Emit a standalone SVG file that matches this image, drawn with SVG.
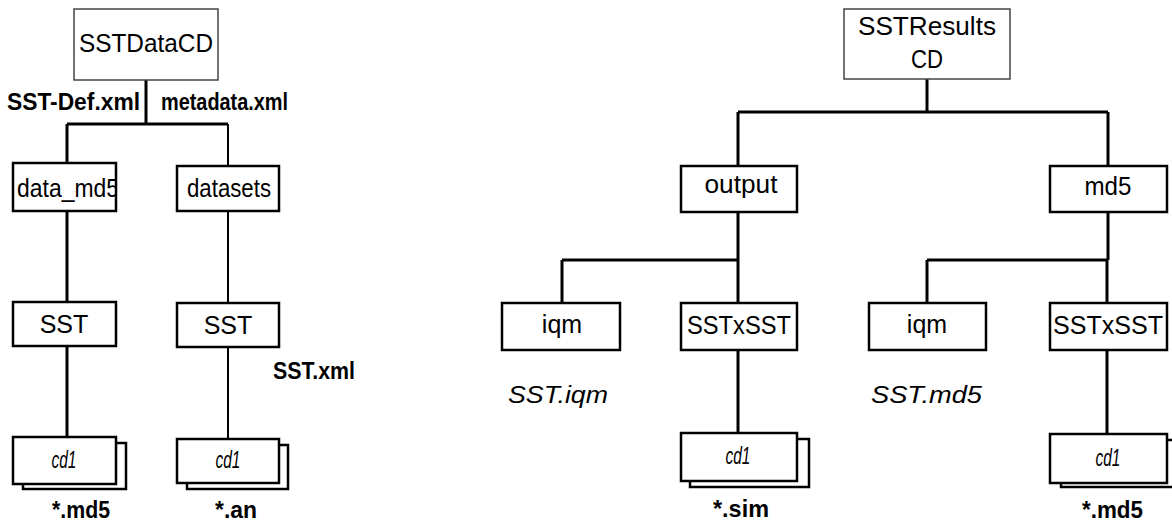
<svg xmlns="http://www.w3.org/2000/svg" width="1172" height="523" viewBox="0 0 1172 523">
<style>
.bx{fill:#fff;stroke:#000;stroke-width:2.5}
.root{fill:#fff;stroke:#444;stroke-width:1.5}
.t{font-family:"Liberation Sans",Arial,sans-serif;font-size:25px;fill:#000;text-anchor:middle}
.cd{font-family:"Liberation Sans",Arial,sans-serif;font-size:23px;font-style:italic;fill:#000;text-anchor:middle}
.lb{font-family:"Liberation Sans",Arial,sans-serif;font-size:24px;font-weight:bold;fill:#000}
.it{font-family:"Liberation Sans",Arial,sans-serif;font-size:23px;font-style:italic;fill:#000}
.ln{fill:none;stroke:#000;stroke-width:3}
.ln2{fill:none;stroke:#000;stroke-width:2}
</style>
<defs>
<clipPath id="clipDm"><rect x="14" y="164" width="102" height="46"/></clipPath>
</defs>
<rect width="1172" height="523" fill="#fff"/>
<g id="connectors">
<path class="ln" d="M146 80V124M67 124H228M67 124V164M67 211V302M67 346V437"/>
<path class="ln2" d="M228 124V166M228 211V303M228 347V439"/>
<path class="ln" d="M927 79V112M738 112H1108M738 112V166M1108 112V166"/>
<path class="ln" d="M738 212V303M562 260H738M562 260V303M738 350V433"/>
<path class="ln" d="M1108 212V260M927 260H1108M927 260V303M1107 260V303M1107 350V434"/>
</g>
<g id="SSTDataCD"><rect class="root" x="74" y="9" width="144" height="71"/><text class="t" x="146" y="52" textLength="134" lengthAdjust="spacingAndGlyphs">SSTDataCD</text></g>
<g id="lbl-def"><text class="lb" x="7" y="110" textLength="133" lengthAdjust="spacingAndGlyphs">SST-Def.xml</text></g>
<g id="lbl-meta"><text class="lb" x="161" y="110" textLength="127" lengthAdjust="spacingAndGlyphs">metadata.xml</text></g>
<g id="data_md5"><rect class="bx" x="13" y="163" width="103" height="48"/><text class="t" x="17" y="197" style="text-anchor:start" textLength="102" lengthAdjust="spacingAndGlyphs" clip-path="url(#clipDm)">data_md5</text></g>
<g id="datasets"><rect class="bx" x="177" y="166" width="102" height="45"/><text class="t" x="229" y="197" textLength="84" lengthAdjust="spacingAndGlyphs">datasets</text></g>
<g id="SST-left"><rect class="bx" x="13" y="302" width="103" height="44"/><text class="t" x="64" y="333">SST</text></g>
<g id="SST-right"><rect class="bx" x="177" y="303" width="102" height="44"/><text class="t" x="228" y="334">SST</text></g>
<g id="lbl-sstxml"><text class="lb" x="273" y="379" textLength="82" lengthAdjust="spacingAndGlyphs">SST.xml</text></g>
<g id="cd1-a"><rect class="bx" x="23" y="443" width="103" height="46"/><rect class="bx" x="13" y="437" width="103" height="47"/><text class="cd" x="64" y="468" textLength="25" lengthAdjust="spacingAndGlyphs">cd1</text></g>
<g id="lbl-md5a"><text class="lb" x="52" y="518" textLength="58" lengthAdjust="spacingAndGlyphs">*.md5</text></g>
<g id="cd1-b"><rect class="bx" x="187" y="445" width="101" height="44"/><rect class="bx" x="177" y="439" width="102" height="44"/><text class="cd" x="228" y="468" textLength="25" lengthAdjust="spacingAndGlyphs">cd1</text></g>
<g id="lbl-an"><text class="lb" x="215" y="518" textLength="42" lengthAdjust="spacingAndGlyphs">*.an</text></g>

<g id="SSTResultsCD"><rect class="root" x="844" y="9" width="166" height="70"/><text class="t" x="927" y="35" textLength="138" lengthAdjust="spacingAndGlyphs">SSTResults</text><text class="t" x="927" y="68" textLength="32" lengthAdjust="spacingAndGlyphs">CD</text></g>
<g id="output"><rect class="bx" x="681" y="166" width="116" height="46"/><text class="t" x="741" y="193" textLength="73" lengthAdjust="spacingAndGlyphs">output</text></g>
<g id="md5"><rect class="bx" x="1050" y="166" width="117" height="46"/><text class="t" x="1108" y="195" textLength="47" lengthAdjust="spacingAndGlyphs">md5</text></g>
<g id="iqm-a"><rect class="bx" x="502" y="303" width="118" height="47"/><text class="t" x="562" y="333">iqm</text></g>
<g id="SSTxSST-a"><rect class="bx" x="681" y="303" width="116" height="47"/><text class="t" x="739" y="334" textLength="104" lengthAdjust="spacingAndGlyphs">SSTxSST</text></g>
<g id="lbl-sstiqm"><text class="it" x="508" y="403" textLength="100" lengthAdjust="spacingAndGlyphs">SST.iqm</text></g>
<g id="cd1-c"><rect class="bx" x="690" y="439" width="119" height="48"/><rect class="bx" x="681" y="433" width="116" height="48"/><text class="cd" x="738" y="464" textLength="25" lengthAdjust="spacingAndGlyphs">cd1</text></g>
<g id="lbl-sim"><text class="lb" x="713" y="517" textLength="56" lengthAdjust="spacingAndGlyphs">*.sim</text></g>
<g id="iqm-b"><rect class="bx" x="869" y="303" width="117" height="47"/><text class="t" x="927" y="333">iqm</text></g>
<g id="SSTxSST-b"><rect class="bx" x="1050" y="303" width="117" height="47"/><text class="t" x="1108" y="334" textLength="110" lengthAdjust="spacingAndGlyphs">SSTxSST</text></g>
<g id="lbl-sstmd5"><text class="it" x="871" y="403" textLength="111" lengthAdjust="spacingAndGlyphs">SST.md5</text></g>
<g id="cd1-d"><rect class="bx" x="1061" y="440" width="119" height="47"/><rect class="bx" x="1050" y="434" width="117" height="49"/><text class="cd" x="1108" y="466" textLength="25" lengthAdjust="spacingAndGlyphs">cd1</text></g>
<g id="lbl-md5b"><text class="lb" x="1082" y="518" textLength="61" lengthAdjust="spacingAndGlyphs">*.md5</text></g>
</svg>
